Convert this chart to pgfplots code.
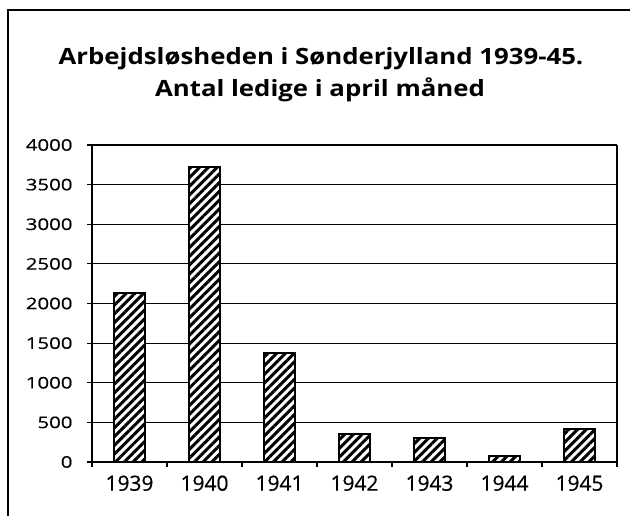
\documentclass[border=0pt]{standalone}
\usepackage{pgfplots}
\pgfplotsset{compat=1.18}
\usepackage{fontspec}
\setmainfont{Open Sans}
\newfontfamily\titlefont{Open Sans}[FakeStretch=1.15]
\newfontfamily\yfont{Open Sans}[FakeStretch=1.28,FakeBold=0.6]
\newfontfamily\xfont{Open Sans}[FakeBold=0.6]
\usetikzlibrary{patterns.meta}
\begin{document}
\begin{tikzpicture}[x=1bp,y=1bp]
\path[use as bounding box] (0,0) rectangle (630,516);
\draw[line width=1.2bp] (8,0) -- (8,506) -- (630,506);
\node[anchor=base,font=\titlefont\bfseries\fontsize{22.5}{27}\selectfont] at (321,451) {Arbejdsløsheden i Sønderjylland 1939-45.};
\node[anchor=base,font=\titlefont\bfseries\fontsize{22.5}{27}\selectfont] at (320,419) {Antal ledige i april måned};
\begin{axis}[
  at={(92bp,54bp)}, anchor=south west,
  scale only axis, width=525bp, height=317bp,
  xmin=-0.5, xmax=6.5, ymin=0, ymax=4000,
  ytick={0,500,...,4000},
  xtick={0,...,6},
  xticklabels={1939,1940,1941,1942,1943,1944,1945},
  minor xtick={-0.5,0.5,...,6.5},
  major x tick style={draw=none},
  tick align=outside,
  major tick length=5bp, minor tick length=5bp,
  tick style={black, line width=1.2bp},
  axis line style={line width=1.5bp},
  ymajorgrids, grid style={black, line width=1.2bp},
  axis x line*=bottom, axis y line*=left,
  /pgf/number format/assume math mode=true,
  /pgf/number format/1000 sep={},
  yticklabel style={font=\yfont\fontsize{16}{19}\selectfont, xshift=-11bp},
  xticklabel style={font=\xfont\fontsize{21}{24}\selectfont, yshift=-5bp},
  clip=false,
]
\draw[line width=1.5bp] (axis cs:6.5,0) -- (axis cs:6.5,4000);
\addplot[ybar, bar width=0.41, draw=black, line width=1.6bp, fill=white,
  postaction={pattern={Lines[angle=45,distance=6.2bp,line width=3bp]}}]
  coordinates {(0,2130) (1,3720) (2,1375) (3,353) (4,303) (5,76) (6,420)};
\end{axis}
\end{tikzpicture}
\end{document}
